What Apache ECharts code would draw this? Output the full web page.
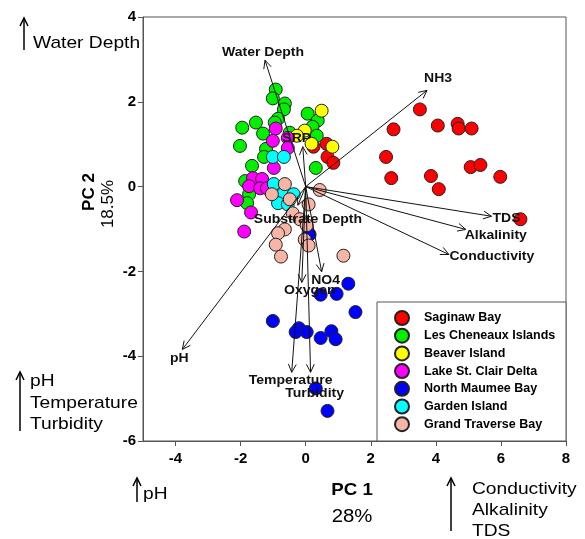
<!DOCTYPE html>
<html><head><meta charset="utf-8">
<script src="https://cdn.jsdelivr.net/npm/echarts@6/dist/echarts.min.js"></script>
<style>html,body{margin:0;padding:0;background:#fff}#c{width:585px;height:539px}</style>
</head><body><div id="c"></div>
<script>
// ---- data ----
const groupNames = ['Saginaw Bay','Les Cheneaux Islands','Beaver Island','Lake St. Clair Delta','North Maumee Bay','Garden Island','Grand Traverse Bay'];
const saginawBay = [[3.51,1.82],[2.70,1.35],[4.06,1.44],[4.67,1.48],[4.70,1.37],[5.10,1.37],[2.47,0.70],[2.63,0.20],[3.85,0.25],[4.09,-0.06],[5.07,0.46],[5.37,0.51],[5.98,0.23],[6.60,-0.77],[0.24,0.94],[0.64,1.01],[0.67,0.70],[0.85,0.56]];
const lesCheneaux = [[-0.92,2.29],[-1.01,2.08],[-0.64,1.96],[-0.67,1.82],[-0.85,1.60],[-0.95,1.51],[-1.53,1.51],[-1.95,1.39],[-1.31,1.25],[-2.02,0.96],[0.06,1.72],[0.37,1.56],[0.21,1.41],[0.34,1.20],[0.31,0.44],[-0.49,1.27],[-1.22,0.89],[-1.28,0.70],[-1.65,0.49],[-1.86,0.13],[-1.74,-0.18],[-1.80,-0.39]];
const beaverIsland = [[0.49,1.79],[-0.03,1.32],[-0.27,1.20],[0.18,1.01],[0.82,0.94]];
const lakeStClair = [[-0.92,1.37],[-1.01,1.08],[-0.55,1.15],[-0.55,0.91],[-0.98,0.44],[-1.62,0.20],[-1.34,0.18],[-1.74,0.01],[-1.40,-0.04],[-1.19,-0.04],[-2.11,-0.32],[-1.68,-0.61],[-1.89,-1.06]];
const northMaumee = [[0.12,-1.13],[1.31,-2.29],[0.46,-2.55],[0.95,-2.53],[1.53,-2.96],[-1.01,-3.17],[-0.21,-3.34],[-0.31,-3.43],[0.03,-3.43],[0.46,-3.57],[0.79,-3.41],[0.92,-3.60],[0.31,-4.76],[0.67,-5.29]];
const gardenIsland = [[-1.01,0.70],[-0.67,0.70],[-0.98,0.06],[-0.70,-0.18],[-0.37,-0.18],[-0.85,-0.39],[-0.55,-0.42]];
const grandTraverse = [[-0.64,0.06],[-1.04,-0.18],[-0.49,-0.30],[0.43,-0.08],[0.09,-0.42],[-0.40,-0.63],[-0.18,-0.77],[0.03,-0.91],[-0.64,-1.01],[-0.85,-1.10],[-0.03,-1.25],[0.09,-1.39],[-0.92,-1.37],[-0.76,-1.65],[1.16,-1.63]];
const vectorNames = ['Water Depth','NH3','SRP','TDS','Alkalinity','Conductivity','Substrate Depth','NO4','Oxygen','Temperature','Turbidity','pH'];
const vectorX = [-1.25, 3.73, -0.09, 5.71, 4.92, 4.40, -0.24, 0.49, -0.12, -0.43, 0.15, -3.79];
const vectorY = [2.98, 2.27, 0.94, -0.70, -1.01, -1.60, -0.44, -2.01, -2.26, -4.38, -4.38, -3.84];
const xTickValues = [-4,-2,0,2,4,6,8];
const yTickValues = [-6,-4,-2,0,2,4];

// ---- styles ----
const colors = ['#ff0000','#00f000','#ffff00','#ff00ff','#0000ff','#00ffff','#f7b5a5'];
const groupData = [saginawBay, lesCheneaux, beaverIsland, lakeStClair, northMaumee, gardenIsland, grandTraverse];
const labelOffsets = {
  'Water Depth':[-2,-8],'NH3':[11,-12],'SRP':[-6,-8],'TDS':[15,2],'Alkalinity':[30,6],'Conductivity':[43,2],
  'Substrate Depth':[10,14],'NO4':[4,9],'Oxygen':[8,8],'Temperature':[-1,8],'Turbidity':[4,21],'pH':[-3,9]
};
const FONT = '"Liberation Sans", Arial, sans-serif';

const chart = echarts.init(document.getElementById('c'), null, {renderer:'canvas'});

const scatterSeries = groupNames.map((n,i)=>({
  name:n, type:'scatter', data:groupData[i], symbol:'circle', symbolSize:13, z:2,
  itemStyle:{color:colors[i], borderColor:'#222', borderWidth:1, opacity:1}
}));

const vecData = vectorNames.map((n,i)=>[vectorX[i], vectorY[i], n]);

function arrowEl(x, y1, y2){
  return [
    {type:'line', shape:{x1:x,y1:y1,x2:x,y2:y2}, style:{stroke:'#000', lineWidth:1.5}},
    {type:'polyline', shape:{points:[[x-4,y2+8],[x,y2],[x+4,y2+8]]}, style:{stroke:'#000', fill:null, lineWidth:1.5}}
  ];
}
function txt(x,y,t,font,align,extra){
  return Object.assign({type:'text', x:x, y:y, style:{text:t, font:font, fill:'#000', align:align||'left', verticalAlign:'middle', textAlign:align||'left', textVerticalAlign:'middle'}}, extra||{});
}

const option = {
  animation:false,
  grid:{left:143, top:17, right:19, bottom:98, show:true, borderColor:'#555', borderWidth:1},
  xAxis:{type:'value', min:-5, max:8,
    axisLine:{show:true, onZero:false, lineStyle:{color:'#555'}},
    axisTick:{show:true, length:5, customValues:xTickValues, lineStyle:{color:'#555'}},
    axisLabel:{customValues:xTickValues, fontFamily:FONT, fontWeight:'bold', fontSize:15, color:'#000', margin:10},
    splitLine:{show:false}},
  yAxis:{type:'value', min:-6, max:4, interval:2,
    axisLine:{show:true, onZero:false, lineStyle:{color:'#555'}},
    axisTick:{show:true, length:5, lineStyle:{color:'#555'}},
    axisLabel:{fontFamily:FONT, fontWeight:'bold', fontSize:15, color:'#000', margin:7},
    splitLine:{show:false}},
  legend:{data:groupNames, orient:'vertical', left:394, top:310, padding:0, itemWidth:14, itemHeight:14, itemGap:1.7,
    icon:'circle', textStyle:{fontFamily:FONT, fontWeight:'bold', fontSize:12.5, color:'#000', padding:[0,0,0,10]}},
  series: scatterSeries.concat([{
    type:'custom', name:'vectors', data:vecData, z:5, silent:true,
    encode:{x:0,y:1},
    renderItem:function(params, api){
      const o = api.coord([0,0]);
      const t = api.coord([api.value(0), api.value(1)]);
      const name = vectorNames[params.dataIndex];
      const ang = Math.atan2(t[1]-o[1], t[0]-o[0]);
      const L = 9, a = Math.PI/7;
      const p1 = [t[0]-L*Math.cos(ang-a), t[1]-L*Math.sin(ang-a)];
      const p2 = [t[0]-L*Math.cos(ang+a), t[1]-L*Math.sin(ang+a)];
      const off = labelOffsets[name];
      return {type:'group', children:[
        {type:'line', shape:{x1:o[0],y1:o[1],x2:t[0],y2:t[1]}, style:{stroke:'#111', lineWidth:1}},
        {type:'polyline', shape:{points:[p1,t,p2]}, style:{stroke:'#111', fill:null, lineWidth:1}},
        {type:'text', x:t[0]+off[0], y:t[1]+off[1], scaleX:1.12, style:{text:name, fill:'#111', font:'bold 12.5px '+FONT, align:'center', verticalAlign:'middle', textAlign:'center', textVerticalAlign:'middle'}}
      ]};
    }
  }]),
  graphic:[
    {type:'rect', shape:{x:377, y:302, width:189, height:139}, style:{fill:'#fff', stroke:'#555', lineWidth:1}, z:1}
  ].concat(
    arrowEl(24, 50, 18),
    [txt(33, 43, 'Water Depth', '17px '+FONT, 'left', {scaleX:1.13})],
    arrowEl(20, 431, 372),
    [txt(30, 381, 'pH', '17px '+FONT, 'left', {scaleX:1.13}),
     txt(30, 403, 'Temperature', '17px '+FONT, 'left', {scaleX:1.13}),
     txt(30, 424, 'Turbidity', '17px '+FONT, 'left', {scaleX:1.13})],
    arrowEl(137, 502, 478),
    [txt(143, 494, 'pH', '17px '+FONT, 'left', {scaleX:1.13})],
    arrowEl(451, 531, 478),
    [txt(472, 489, 'Conductivity', '17px '+FONT, 'left', {scaleX:1.13}),
     txt(472, 510, 'Alkalinity', '17px '+FONT, 'left', {scaleX:1.13}),
     txt(472, 531, 'TDS', '17px '+FONT, 'left', {scaleX:1.13})],
    [txt(352, 490, 'PC 1', 'bold 17px '+FONT, 'center', {scaleX:1.1}),
     txt(352, 517, '28%', '18px '+FONT, 'center', {scaleX:1.13}),
     txt(89, 192, 'PC 2', 'bold 17px '+FONT, 'center', {rotation:Math.PI/2}),
     txt(108, 204, '18.5%', '17px '+FONT, 'center', {rotation:Math.PI/2})]
  )
};
chart.setOption(option);
</script>
</body></html>
